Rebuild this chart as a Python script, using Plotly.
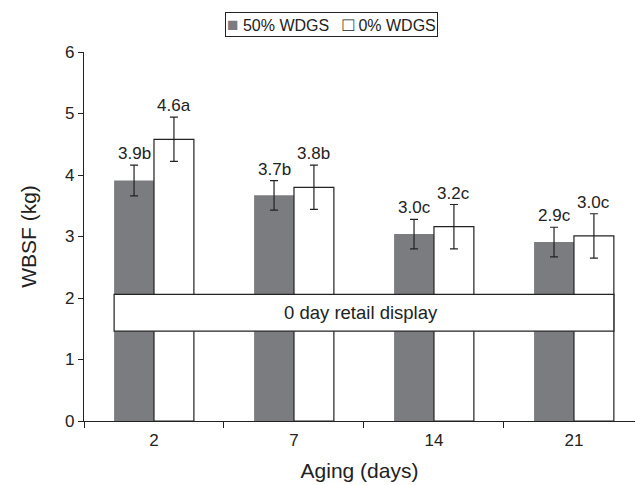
import plotly.graph_objects as go

# Aging periods (days) and WBSF means / SE for each diet
aging_days = ["2", "7", "14", "21"]
series_names = ["50% WDGS", "0% WDGS"]
wdgs50_mean = [3.91, 3.67, 3.04, 2.91]
wdgs50_err = [0.25, 0.24, 0.24, 0.24]
wdgs50_letters = ["b", "b", "c", "c"]
wdgs0_mean = [4.58, 3.80, 3.16, 3.01]
wdgs0_err = [0.36, 0.36, 0.36, 0.36]
wdgs0_letters = ["a", "b", "c", "c"]
y_ticks = [0, 1, 2, 3, 4, 5, 6]
display_band = (1.46, 2.06)
display_label = "0 day retail display"

FONT = "Liberation Sans, Arial, Helvetica, sans-serif"
DARK = "#7b7c80"
INK = "#222222"
BARGAP = 0.43
group_w = 1 - BARGAP

fig = go.Figure()
fig.add_trace(go.Bar(
    x=aging_days, y=wdgs50_mean, name=series_names[0],
    marker=dict(color=DARK, line=dict(color=DARK, width=0)),
    error_y=dict(type="data", array=wdgs50_err, color=INK, thickness=1.2, width=4),
))
fig.add_trace(go.Bar(
    x=aging_days, y=wdgs0_mean, name=series_names[1],
    marker=dict(color="white", line=dict(color=INK, width=1.2)),
    error_y=dict(type="data", array=wdgs0_err, color=INK, thickness=1.2, width=4),
))

# value + significance letters above each error bar
annotations = []
for means, errs, letters, off in [
    (wdgs50_mean, wdgs50_err, wdgs50_letters, -group_w / 4),
    (wdgs0_mean, wdgs0_err, wdgs0_letters, group_w / 4),
]:
    for i, (m, e, l) in enumerate(zip(means, errs, letters)):
        annotations.append(dict(
            x=i + off, y=m + e, xref="x", yref="y",
            text=f"{m:.1f}{l}", showarrow=False, yanchor="bottom",
            yshift=0, font=dict(family=FONT, size=17, color=INK),
        ))

# retail display band across all groups
n = len(aging_days)
fig.add_shape(
    type="rect", xref="x", yref="y",
    x0=-group_w / 2, x1=(n - 1) + group_w / 2,
    y0=display_band[0], y1=display_band[1],
    fillcolor="white", line=dict(color=INK, width=1.2), layer="above",
)
annotations.append(dict(
    x=(n - 1) / 2 - 0.02, y=sum(display_band) / 2, xref="x", yref="y",
    text=display_label, showarrow=False,
    font=dict(family=FONT, size=18.5, color=INK),
))

# boxed legend line at the top
sq = "font-size:19px"
legend_text = (
    f"<span style='color:{DARK};{sq}'>■</span> {series_names[0]}&nbsp;&nbsp;&nbsp;"
    f"<span style='color:{INK};{sq}'>□</span> {series_names[1]}"
)
annotations.append(dict(
    x=0.449, y=1.108, xref="paper", yref="paper",
    xanchor="center", yanchor="top", text=legend_text, showarrow=False,
    bordercolor=INK, borderwidth=1, borderpad=1, bgcolor="white",
    font=dict(family=FONT, size=16, color=INK),
))

fig.update_layout(
    width=635, height=485,
    margin=dict(l=84, r=0, t=52, b=64),
    paper_bgcolor="white", plot_bgcolor="white",
    barmode="group", bargap=BARGAP, bargroupgap=0,
    showlegend=False,
    annotations=annotations,
    font=dict(family=FONT, color=INK),
)
fig.update_xaxes(
    type="category", range=[-0.5, 3.436],
    showline=True, linecolor=INK, linewidth=1.2,
    ticks="outside", tickson="boundaries", ticklen=6, tickcolor=INK,
    ticklabelstandoff=3,
    showgrid=False, zeroline=False,
    tickfont=dict(family=FONT, size=17, color=INK),
    title=dict(text="Aging (days)", font=dict(family=FONT, size=21, color=INK), standoff=14),
)
fig.update_yaxes(
    range=[0, 6], tickvals=y_ticks,
    showline=True, linecolor=INK, linewidth=1.2,
    ticks="outside", ticklen=5, tickcolor=INK,
    showgrid=False, zeroline=False,
    tickfont=dict(family=FONT, size=17, color=INK),
    title=dict(text="WBSF (kg)", font=dict(family=FONT, size=21, color=INK), standoff=22),
)

fig.write_html("out.html")
